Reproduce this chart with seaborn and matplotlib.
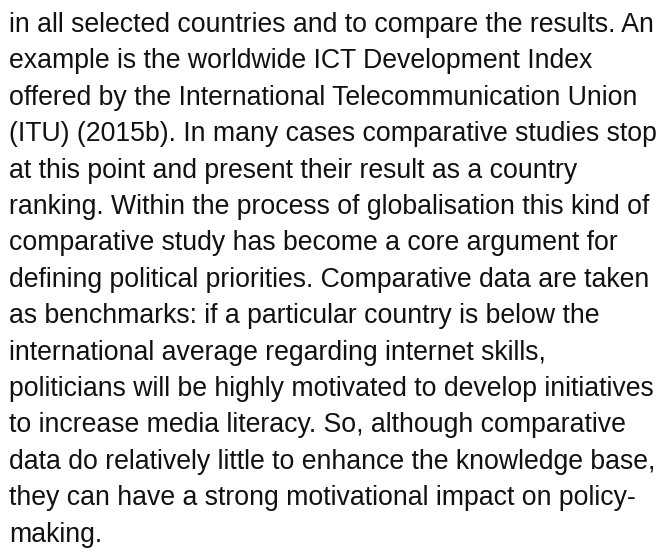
import matplotlib
matplotlib.use("Agg")
import matplotlib.pyplot as plt
import seaborn as sns

# the "chart" is a paragraph of body text, one entry per printed line
lines = [
    "in all selected countries and to compare the results. An",
    "example is the worldwide ICT Development Index",
    "offered by the International Telecommunication Union",
    "(ITU) (2015b). In many cases comparative studies stop",
    "at this point and present their result as a country",
    "ranking. Within the process of globalisation this kind of",
    "comparative study has become a core argument for",
    "defining political priorities. Comparative data are taken",
    "as benchmarks: if a particular country is below the",
    "international average regarding internet skills,",
    "politicians will be highly motivated to develop initiatives",
    "to increase media literacy. So, although comparative",
    "data do relatively little to enhance the knowledge base,",
    "they can have a strong motivational impact on policy-",
    "making.",
]

sns.set_theme(style="white")
plt.rcParams['font.family'] = ['Liberation Sans', 'DejaVu Sans']

W, H = 661, 552
fig = plt.figure(figsize=(W / 100, H / 100), dpi=100)
fig.patch.set_facecolor("white")
ax = fig.add_axes([0, 0, 1, 1])
ax.set_xlim(0, W)
ax.set_ylim(H, 0)
ax.axis("off")

first_baseline = 32
line_gap = 36.4
for i, txt in enumerate(lines):
    ax.text(9, first_baseline + i * line_gap, txt, fontsize=19.2,
            color="#111111", va="baseline", ha="left")

fig.savefig("out.png", dpi=100, facecolor="white")
